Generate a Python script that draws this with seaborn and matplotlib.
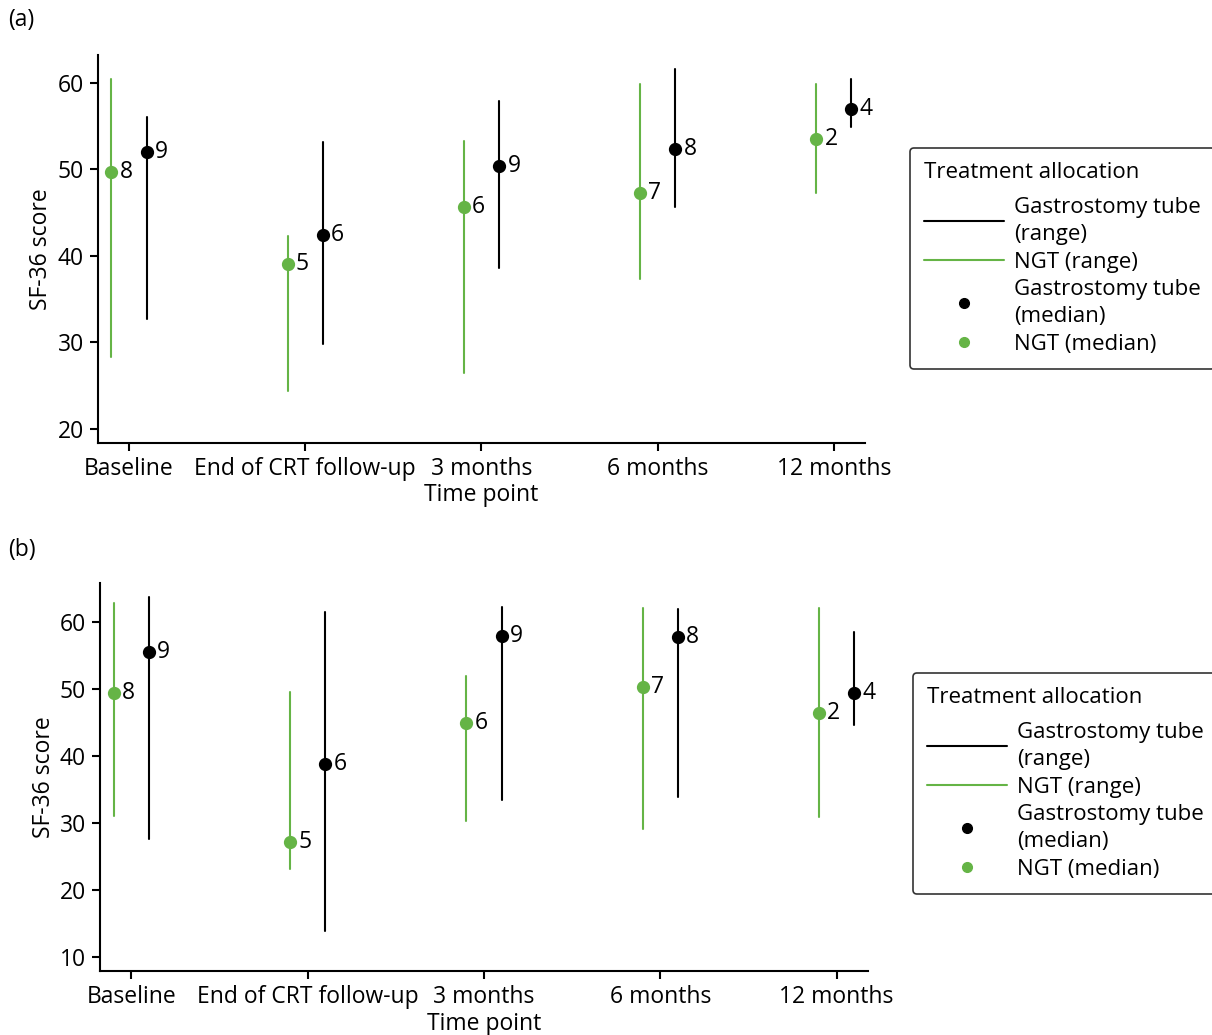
import matplotlib
matplotlib.use("Agg")
import matplotlib.pyplot as plt
import seaborn as sns
import pandas as pd
from matplotlib.lines import Line2D

timepoints = ["Baseline", "End of CRT follow-up", "3 months", "6 months", "12 months"]
groups = ["NGT", "Gastrostomy tube"]

# Panel (a)
a_ngt_min = [28.3, 24.4, 26.5, 37.3, 47.2]
a_ngt_med = [49.7, 39.1, 45.6, 47.3, 53.5]
a_ngt_max = [60.4, 42.3, 53.3, 59.9, 59.9]
a_ngt_n = [8, 5, 6, 7, 2]
a_gt_min = [32.7, 29.8, 38.6, 45.6, 54.9]
a_gt_med = [52.0, 42.4, 50.4, 52.3, 56.9]
a_gt_max = [56.0, 53.2, 57.9, 61.6, 60.4]
a_gt_n = [9, 6, 9, 8, 4]

# Panel (b)
b_ngt_min = [31.1, 23.2, 30.3, 29.2, 30.9]
b_ngt_med = [49.5, 27.2, 45.0, 50.4, 46.5]
b_ngt_max = [62.9, 49.6, 52.0, 62.1, 62.1]
b_ngt_n = [8, 5, 6, 7, 2]
b_gt_min = [27.7, 13.9, 33.4, 33.9, 44.6]
b_gt_med = [55.5, 38.9, 57.9, 57.8, 49.4]
b_gt_max = [63.8, 61.5, 62.3, 61.9, 58.6]
b_gt_n = [9, 6, 9, 8, 4]

GREEN = "#65b446"
BLACK = "#000000"
FONT = ["Open Sans", "DejaVu Sans"]
FS = 16.5

sns.set_style("ticks")
plt.rcParams["font.family"] = FONT
plt.rcParams["font.size"] = FS
plt.rcParams["text.color"] = "black"
plt.rcParams["axes.labelcolor"] = "black"
plt.rcParams["xtick.color"] = "black"
plt.rcParams["ytick.color"] = "black"


def make_df(ngt_min, ngt_med, ngt_max, gt_min, gt_med, gt_max):
    rows = []
    for i, t in enumerate(timepoints):
        for v in (ngt_min[i], ngt_med[i], ngt_max[i]):
            rows.append({"Time point": t, "group": "NGT", "score": v})
        for v in (gt_min[i], gt_med[i], gt_max[i]):
            rows.append({"Time point": t, "group": "Gastrostomy tube", "score": v})
    return pd.DataFrame(rows)


fig = plt.figure(figsize=(12.12, 10.35), dpi=100)
ax_a = fig.add_axes([0.0806, 0.5723, 0.6331, 0.3746])
ax_b = fig.add_axes([0.0825, 0.0616, 0.6335, 0.3748])

panels = [
    (ax_a, make_df(a_ngt_min, a_ngt_med, a_ngt_max, a_gt_min, a_gt_med, a_gt_max),
     a_ngt_med, a_gt_med, a_ngt_n, a_gt_n, (18.4, 63.2), [20, 30, 40, 50, 60], "(a)", 1 - 20 / 1035,
     (910 / 1212, 1 - 148 / 1035)),
    (ax_b, make_df(b_ngt_min, b_ngt_med, b_ngt_max, b_gt_min, b_gt_med, b_gt_max),
     b_ngt_med, b_gt_med, b_ngt_n, b_gt_n, (7.9, 65.8), [10, 20, 30, 40, 50, 60], "(b)", 1 - 550 / 1035,
     (913 / 1212, 1 - 673 / 1035)),
]

for ax, df, ngt_med, gt_med, ngt_n, gt_n, ylim, yticks, tag, tag_y, leg_pos in panels:
    sns.pointplot(data=df, x="Time point", y="score", hue="group", hue_order=groups,
                  order=timepoints, estimator="median", errorbar=("pi", 100),
                  palette={"NGT": GREEN, "Gastrostomy tube": BLACK},
                  dodge=0.2, linestyle="none", markers="o", markersize=7.5,
                  err_kws={"linewidth": 1.5}, ax=ax, legend=False)
    for i in range(len(timepoints)):
        ax.annotate(str(ngt_n[i]), xy=(i - 0.1, ngt_med[i]), xytext=(6, 0),
                    textcoords="offset points", va="center", ha="left", fontsize=FS)
        ax.annotate(str(gt_n[i]), xy=(i + 0.1, gt_med[i]), xytext=(6, 0),
                    textcoords="offset points", va="center", ha="left", fontsize=FS)
    ax.set_xlim(-0.178, 4.177)
    ax.set_ylim(*ylim)
    ax.set_yticks(yticks)
    ax.set_ylabel("SF-36 score", fontsize=FS, labelpad=3)
    ax.set_xlabel("Time point", fontsize=FS, labelpad=2)
    sns.despine(ax=ax)
    for s in ("left", "bottom"):
        ax.spines[s].set_linewidth(1.5)
        ax.spines[s].set_color("black")
    ax.tick_params(axis="both", width=1.5, length=6, labelsize=FS, color="black", pad=4)
    fig.text(8 / 1212, tag_y, tag, fontsize=FS, va="center", ha="left")

    handles = [
        Line2D([], [], color=BLACK, lw=1.5),
        Line2D([], [], color=GREEN, lw=1.5),
        Line2D([], [], color=BLACK, lw=0, marker="o", markersize=7),
        Line2D([], [], color=GREEN, lw=0, marker="o", markersize=7),
    ]
    labels = ["Gastrostomy tube\n(range)", "NGT (range)",
              "Gastrostomy tube\n(median)", "NGT (median)"]
    leg = fig.legend(handles, labels, title="Treatment allocation", loc="upper left",
                     bbox_to_anchor=leg_pos, borderaxespad=0, frameon=True, fancybox=True,
                     fontsize=16, title_fontsize=16, handlelength=3.6, handletextpad=0.45,
                     labelspacing=0.3, borderpad=0.65, alignment="left")
    for t in leg.get_texts():
        t.set_linespacing(1.35)
    leg._legend_box.sep = 10
    leg.get_frame().set_edgecolor("black")
    leg.get_frame().set_linewidth(1.2)

fig.savefig("out.png", dpi=100)
